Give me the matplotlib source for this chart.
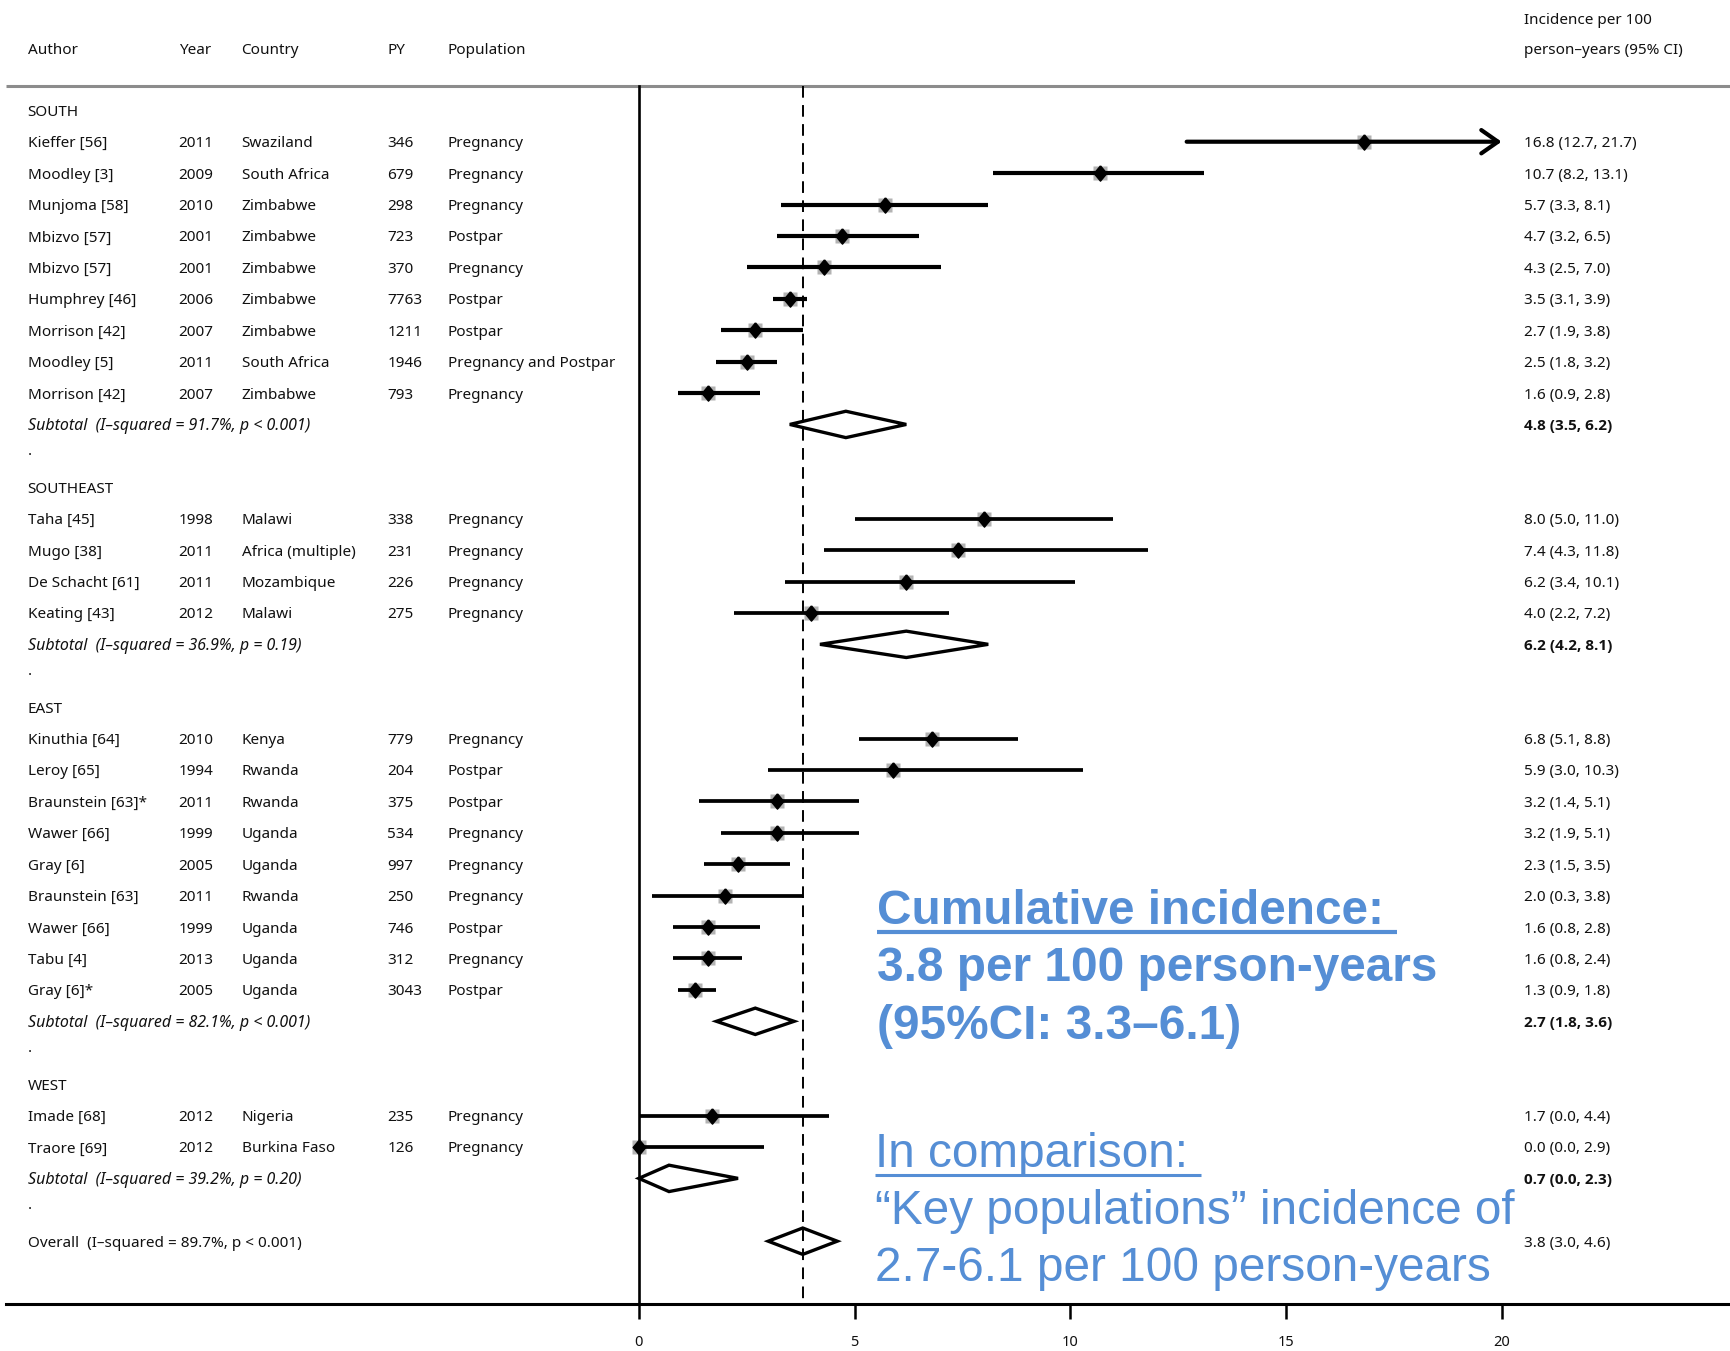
import matplotlib
matplotlib.use("Agg")
import matplotlib.pyplot as plt
from matplotlib import font_manager
from matplotlib.transforms import blended_transform_factory
from matplotlib.patches import Polygon

# ---------------- data ----------------
regions = ["SOUTH", "SOUTHEAST", "EAST", "WEST"]

authors = ["Kieffer [56]", "Moodley [3]", "Munjoma [58]", "Mbizvo [57]", "Mbizvo [57]",
           "Humphrey [46]", "Morrison [42]", "Moodley [5]", "Morrison [42]",
           "Taha [45]", "Mugo [38]", "De Schacht [61]", "Keating [43]",
           "Kinuthia [64]", "Leroy [65]", "Braunstein [63]*", "Wawer [66]", "Gray [6]",
           "Braunstein [63]", "Wawer [66]", "Tabu [4]", "Gray [6]*",
           "Imade [68]", "Traore [69]"]
years = [2011, 2009, 2010, 2001, 2001, 2006, 2007, 2011, 2007,
         1998, 2011, 2011, 2012,
         2010, 1994, 2011, 1999, 2005, 2011, 1999, 2013, 2005,
         2012, 2012]
countries = ["Swaziland", "South Africa", "Zimbabwe", "Zimbabwe", "Zimbabwe", "Zimbabwe",
             "Zimbabwe", "South Africa", "Zimbabwe",
             "Malawi", "Africa (multiple)", "Mozambique", "Malawi",
             "Kenya", "Rwanda", "Rwanda", "Uganda", "Uganda", "Rwanda", "Uganda", "Uganda", "Uganda",
             "Nigeria", "Burkina Faso"]
person_years = [346, 679, 298, 723, 370, 7763, 1211, 1946, 793,
                338, 231, 226, 275,
                779, 204, 375, 534, 997, 250, 746, 312, 3043,
                235, 126]
population = ["Pregnancy", "Pregnancy", "Pregnancy", "Postpar", "Pregnancy", "Postpar",
              "Postpar", "Pregnancy and Postpar", "Pregnancy",
              "Pregnancy", "Pregnancy", "Pregnancy", "Pregnancy",
              "Pregnancy", "Postpar", "Postpar", "Pregnancy", "Pregnancy", "Pregnancy",
              "Postpar", "Pregnancy", "Postpar",
              "Pregnancy", "Pregnancy"]
incidence = [16.8, 10.7, 5.7, 4.7, 4.3, 3.5, 2.7, 2.5, 1.6,
             8.0, 7.4, 6.2, 4.0,
             6.8, 5.9, 3.2, 3.2, 2.3, 2.0, 1.6, 1.6, 1.3,
             1.7, 0.0]
ci_low = [12.7, 8.2, 3.3, 3.2, 2.5, 3.1, 1.9, 1.8, 0.9,
          5.0, 4.3, 3.4, 2.2,
          5.1, 3.0, 1.4, 1.9, 1.5, 0.3, 0.8, 0.8, 0.9,
          0.0, 0.0]
ci_high = [21.7, 13.1, 8.1, 6.5, 7.0, 3.9, 3.8, 3.2, 2.8,
           11.0, 11.8, 10.1, 7.2,
           8.8, 10.3, 5.1, 5.1, 3.5, 3.8, 2.8, 2.4, 1.8,
           4.4, 2.9]
region_of_study = [0] * 9 + [1] * 4 + [2] * 9 + [3] * 2

sub_est = [4.8, 6.2, 2.7, 0.7]
sub_low = [3.5, 4.2, 1.8, 0.0]
sub_high = [6.2, 8.1, 3.6, 2.3]
sub_isq = ["91.7%", "36.9%", "82.1%", "39.2%"]
sub_p = ["p < 0.001", "p = 0.19", "p < 0.001", "p = 0.20"]

overall_est, overall_low, overall_high = 3.8, 3.0, 4.6
overall_isq, overall_p = "89.7%", "p < 0.001"
ref_line = 3.8
x_ticks = [0, 5, 10, 15, 20]
x_max = 20

col_headers = ["Author", "Year", "Country", "PY", "Population"]
right_header = ["Incidence per 100", "person\u2013years (95% CI)"]

note1 = ["Cumulative incidence: ", "3.8 per 100 person-years", "(95%CI: 3.3\u20136.1)"]
note2 = ["In comparison: ", "\u201cKey populations\u201d incidence of", "2.7-6.1 per 100 person-years"]

# ---------------- fonts ----------------
fl = font_manager.fontManager.ttflist
names = {f.name for f in fl}
tab_font = "Noto Sans" if "Noto Sans" in names else "DejaVu Sans"

def has_bold(name):
    return any(f.name == name and (f.weight == "bold" or (isinstance(f.weight, int) and f.weight >= 600))
               for f in fl)

if has_bold(tab_font):
    bold_font = tab_font
elif has_bold("Open Sans"):
    bold_font = "Open Sans"
else:
    bold_font = "DejaVu Sans"
blue_font = "Liberation Sans" if "Liberation Sans" in names else "DejaVu Sans"
tab_fs = 11
blue = "#558ED5"

# ---------------- figure / geometry ----------------
W, H = 1730, 1351
fig = plt.figure(figsize=(W / 100, H / 100), dpi=100)
ax = fig.add_axes([0, 0, 1, 1])
x0_px, x20_px = 638.8, 1501.6
ppu = (x20_px - x0_px) / 20
row0_px, row36_px = 110.3, 1241.2
rpx = (row36_px - row0_px) / 36
ax.set_xlim(-x0_px / ppu, (W - x0_px) / ppu)
ax.set_ylim((H - row0_px) / rpx, -row0_px / rpx)

def prow(py):
    return (py - row0_px) / rpx

header_line_row = prow(86)
axis_row = prow(1304)

tr = blended_transform_factory(fig.transFigure, ax.transData)
col_x = [27.6 / W, 178.7 / W, 241.6 / W, 387.5 / W, 448.0 / W]
right_x = 1523.6 / W

def ttext(x, y, s, **kw):
    kw.setdefault("fontsize", tab_fs)
    kw.setdefault("family", tab_font)
    ax.text(x, y, s, transform=tr, va="center_baseline", ha="left", color="#111111", **kw)

# headers
for cx, h in zip(col_x, col_headers):
    ttext(cx, prow(48), h)
ttext(right_x, prow(18), right_header[0])
ttext(right_x, prow(48), right_header[1])

# rows
study_rows, sub_rows = [], []
row = 0
for r, reg in enumerate(regions):
    ttext(col_x[0], row, reg)
    row += 1
    for i, reg_i in enumerate(region_of_study):
        if reg_i != r:
            continue
        study_rows.append(row)
        ttext(col_x[0], row, authors[i])
        ttext(col_x[1], row, str(years[i]))
        ttext(col_x[2], row, countries[i])
        ttext(col_x[3], row, str(person_years[i]))
        ttext(col_x[4], row, population[i])
        ttext(right_x, row, f"{incidence[i]:.1f} ({ci_low[i]:.1f}, {ci_high[i]:.1f})")
        row += 1
    sub_rows.append(row)
    ttext(col_x[0], row, f"Subtotal  (I\u2013squared = {sub_isq[r]}, {sub_p[r]})",
          style="italic", fontsize=11.5)
    ttext(right_x, row, f"{sub_est[r]:.1f} ({sub_low[r]:.1f}, {sub_high[r]:.1f})",
          weight="bold", family=bold_font)
    row += 1
    ttext(col_x[0], row - 0.2, ".")
    row += 1
overall_row = sub_rows[-1] + 2
ttext(col_x[0], overall_row, f"Overall  (I\u2013squared = {overall_isq}, {overall_p})")
ttext(right_x, overall_row, f"{overall_est:.1f} ({overall_low:.1f}, {overall_high:.1f})")

# ---------------- plot marks ----------------
diamond = [(0, 1), (0.83, 0), (0, -1), (-0.83, 0), (0, 1)]
for k, rr in enumerate(study_rows):
    est, lo, hi = incidence[k], ci_low[k], ci_high[k]
    ax.plot(est, rr, marker="s", ms=9.5, color="#b3b3b3", mec="none", zorder=3)
    if hi > x_max:
        ax.annotate("", xy=(x_max, rr), xytext=(lo, rr),
                    arrowprops=dict(arrowstyle="->,head_length=0.6,head_width=0.42",
                                    lw=3.0, color="black", shrinkA=0, shrinkB=0,
                                    mutation_scale=20), zorder=4)
    else:
        ax.hlines(rr, lo, hi, color="black", lw=3.0 if region_of_study[k] == 0 else 2.7, zorder=4)
    ax.plot(est, rr, marker=diamond, ms=11, color="black", mec="black", zorder=5)

def draw_diamond(rr, lo, est, hi):
    h = 0.42
    poly = Polygon([(lo, rr), (est, rr - h), (hi, rr), (est, rr + h)], closed=True,
                   fill=False, edgecolor="black", lw=2.4, zorder=5, joinstyle="miter")
    ax.add_patch(poly)

for r, rr in enumerate(sub_rows):
    draw_diamond(rr, sub_low[r], sub_est[r], sub_high[r])
draw_diamond(overall_row, overall_low, overall_est, overall_high)

# reference dashed line
ax.vlines(ref_line, header_line_row, axis_row, colors="black", lw=1.4,
          linestyles=(0, (6, 3.8)), zorder=2)

# header line
ax.plot([5.5 / W, 1.0], [header_line_row, header_line_row], transform=tr,
        color="#8c8c8c", lw=2.2, zorder=1, solid_capstyle="butt")

# spines
for s in ["top", "right"]:
    ax.spines[s].set_visible(False)
ax.spines["left"].set_position(("data", 0))
ax.spines["left"].set_bounds(axis_row, header_line_row)
ax.spines["left"].set_linewidth(1.9)
ax.spines["bottom"].set_position(("data", axis_row))
ax.spines["bottom"].set_bounds(-x0_px / ppu + 5.5 / ppu, (W - x0_px) / ppu)
ax.spines["bottom"].set_linewidth(2.2)
ax.set_yticks([])
ax.set_xticks(x_ticks)
ax.set_xticklabels([str(t) for t in x_ticks], family=tab_font, fontsize=10.5, color="#111111")
ax.tick_params(axis="x", direction="out", length=11, width=1.8, pad=11)
ax.patch.set_visible(False)

# ---------------- blue annotation ----------------
def blue_block(lines, x_px, base_px, bold, underline_first):
    texts = []
    for j, s in enumerate(lines):
        t = fig.text(x_px / W, 1 - (base_px[j]) / H, s, fontsize=34.4, family=blue_font,
                     weight="bold" if bold else "normal", color=blue,
                     ha="left", va="baseline")
        texts.append(t)
    if underline_first:
        fig.canvas.draw()
        bb = texts[0].get_window_extent()
        yline = 1 - (base_px[0] + 8) / H
        fig.add_artist(plt.Line2D([bb.x0 / W, bb.x1 / W], [yline, yline],
                                  transform=fig.transFigure, color=blue,
                                  lw=3 if bold else 2.2, solid_capstyle="butt"))

blue_block(note1, 877, [924, 981, 1039], True, True)
blue_block(note2, 875, [1167, 1224, 1281], False, True)

fig.savefig("out.png", dpi=100)
